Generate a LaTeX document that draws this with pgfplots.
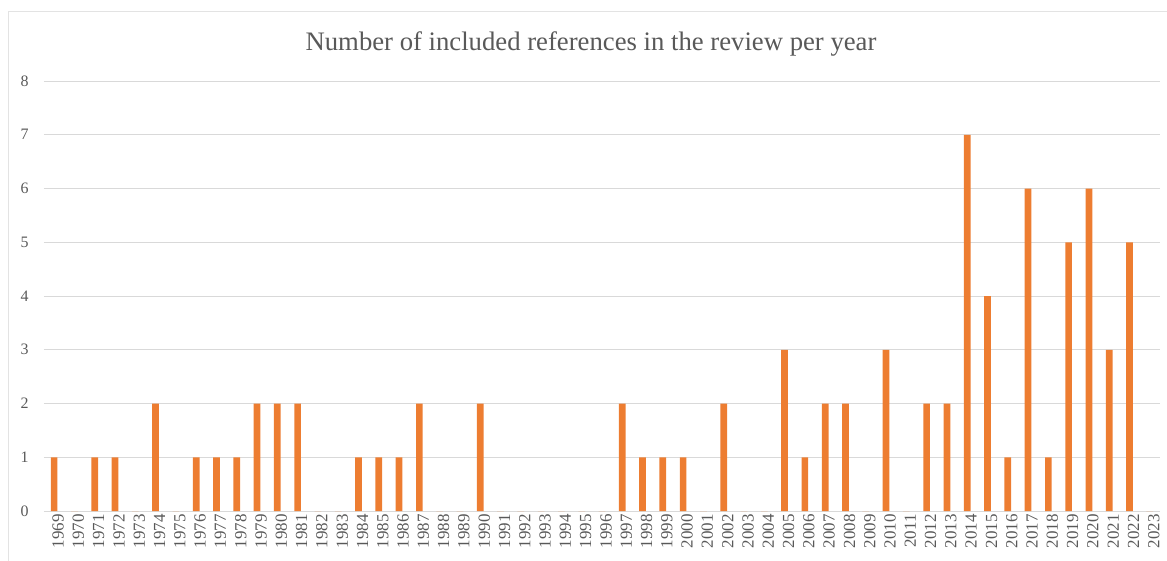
\documentclass[border=0pt]{standalone}
\usepackage{pgfplots}
\pgfplotsset{compat=1.18}
\usepackage{pgfplotstable}
\usepackage{fontspec}
\setmainfont{Liberation Serif}
\definecolor{barorange}{HTML}{ED7D31}
\definecolor{txtgray}{HTML}{595959}
\definecolor{gridgray}{HTML}{D9D9D9}
\definecolor{framegray}{HTML}{E3E3E3}
\pgfplotstableread{
year n
1969 1
1970 0
1971 1
1972 1
1973 0
1974 2
1975 0
1976 1
1977 1
1978 1
1979 2
1980 2
1981 2
1982 0
1983 0
1984 1
1985 1
1986 1
1987 2
1988 0
1989 0
1990 2
1991 0
1992 0
1993 0
1994 0
1995 0
1996 0
1997 2
1998 1
1999 1
2000 1
2001 0
2002 2
2003 0
2004 0
2005 3
2006 1
2007 2
2008 2
2009 0
2010 3
2011 0
2012 2
2013 2
2014 7
2015 4
2016 1
2017 6
2018 1
2019 5
2020 6
2021 3
2022 5
2023 0
}\datatable
\begin{document}
\begin{tikzpicture}
\useasboundingbox (0,0) rectangle (1167bp,-561bp);
\draw[framegray, line width=1bp] (8bp,-570bp) -- (8bp,-11bp) -- (1175bp,-11bp);
\node[txtgray, font=\fontsize{26.8}{30}\selectfont] at (591bp,-44bp) {Number of included references in the review per year};
\begin{axis}[
  at={(44bp,-511bp)}, anchor=south west,
  scale only axis, width=1116bp, height=430bp,
  xmin=-0.5, xmax=54.5, ymin=0, ymax=8,
  axis line style={draw=none},
  ytick={0,1,2,3,4,5,6,7,8},
  xtick={0,...,54},
  xticklabels={1969,1970,1971,1972,1973,1974,1975,1976,1977,1978,1979,1980,1981,1982,1983,1984,1985,1986,1987,1988,1989,1990,1991,1992,1993,1994,1995,1996,1997,1998,1999,2000,2001,2002,2003,2004,2005,2006,2007,2008,2009,2010,2011,2012,2013,2014,2015,2016,2017,2018,2019,2020,2021,2022,2023},
  major tick length=0pt,
  ymajorgrids, grid style={gridgray, line width=1bp},
  /pgf/number format/assume math mode=true,
  ticklabel style={txtgray, font=\fontsize{16}{19}\selectfont},
  yticklabel style={xshift=-12bp},
  xticklabel style={rotate=90, anchor=east, yshift=-4bp, font=\fontsize{17}{19}\selectfont},
  clip=false,
]
\addplot[ybar, bar width=0.33, fill=barorange, draw=none] table[x expr=\thisrow{year}-1969, y=n] {\datatable};
\end{axis}
\end{tikzpicture}
\end{document}
